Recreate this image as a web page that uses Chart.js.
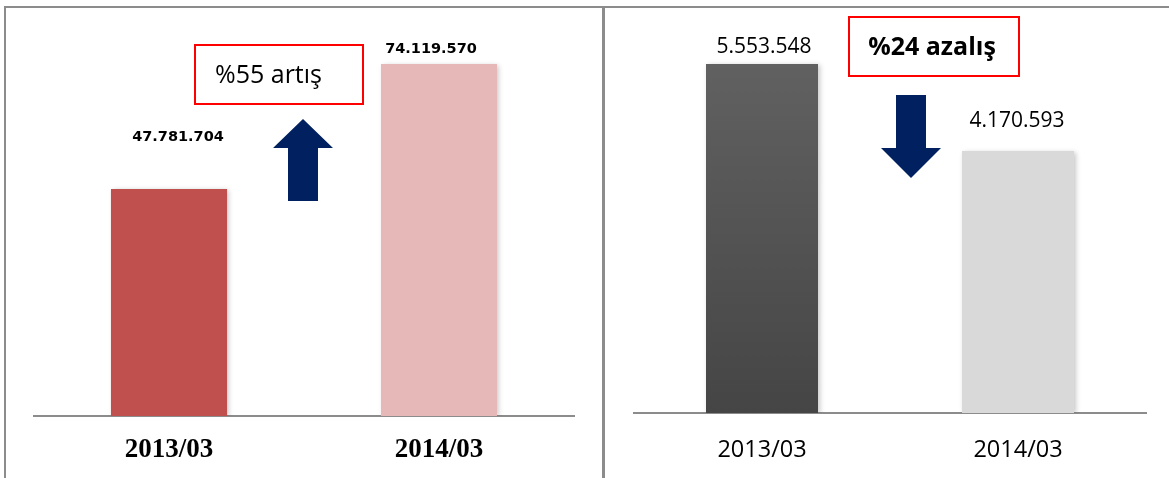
<!DOCTYPE html>
<html>
<head>
<meta charset="utf-8">
<title>2013/03 - 2014/03</title>
<script src="https://cdn.jsdelivr.net/npm/chart.js@4.4.1/dist/chart.umd.min.js"></script>
<style>
    html, body { margin: 0; padding: 0; background: #fff; }
    #page { position: relative; width: 1169px; height: 478px; overflow: hidden; }
    #page canvas { position: absolute; left: 0; top: 0; }
    .line { position: absolute; background: #8c8c8c; }
</style>
</head>
<body>
<div id="page">
    <div class="line" style="left:4px;top:6px;width:1165px;height:2px"></div>
    <div class="line" style="left:4px;top:6px;width:2px;height:472px"></div>
    <div class="line" style="left:602px;top:6px;width:3px;height:472px"></div>
    <canvas id="chartLeft" width="1169" height="478"></canvas>
    <canvas id="chartRight" width="1169" height="478"></canvas>
</div>
<script>
    // DATA
    var periods = ['2013/03', '2014/03'];
    var leftValues = [47781704, 74119570];
    var rightValues = [5553548, 4170593];
    var leftNote = '%55 artış';
    var rightNote = '%24 azalış';

    function formatTr(v) {
        return String(v).replace(/\B(?=(\d{3})+(?!\d))/g, '.');
    }

    // PLUGINS
    var barShadow = {
        id: 'barShadow',
        beforeDatasetsDraw: function (chart) {
            var c = chart.ctx;
            c.save();
            c.shadowColor = 'rgba(0,0,0,0.22)';
            c.shadowBlur = 5;
            c.shadowOffsetX = 2;
            c.shadowOffsetY = 1;
        },
        afterDatasetsDraw: function (chart) {
            chart.ctx.restore();
        }
    };

    var valueLabels = {
        id: 'valueLabels',
        afterDraw: function (chart, args, opts) {
            var c = chart.ctx;
            var meta = chart.getDatasetMeta(0);
            var data = chart.data.datasets[0].data;
            c.save();
            c.font = opts.font;
            c.fillStyle = opts.color;
            c.textAlign = 'center';
            c.textBaseline = 'alphabetic';
            meta.data.forEach(function (bar, i) {
                c.fillText(formatTr(data[i]), bar.x + opts.dx[i], bar.y - opts.gap[i]);
            });
            c.restore();
        }
    };

    var notes = {
        id: 'notes',
        afterDraw: function (chart, args, opts) {
            var c = chart.ctx;
            var b = opts.box;
            var a = opts.arrow;
            c.save();
            // red box
            c.strokeStyle = '#ff0000';
            c.lineWidth = 2;
            c.strokeRect(b.x, b.y, b.w, b.h);
            c.font = opts.font;
            c.fillStyle = '#000';
            c.textAlign = opts.align;
            c.textBaseline = 'alphabetic';
            c.fillText(opts.text, opts.textX, opts.textY);
            // arrow
            c.fillStyle = '#002060';
            c.beginPath();
            c.moveTo(a.cx, a.tip);
            c.lineTo(a.cx + a.head, a.base);
            c.lineTo(a.cx + a.shaft, a.base);
            c.lineTo(a.cx + a.shaft, a.end);
            c.lineTo(a.cx - a.shaft, a.end);
            c.lineTo(a.cx - a.shaft, a.base);
            c.lineTo(a.cx - a.head, a.base);
            c.closePath();
            c.fill();
            c.restore();
        }
    };

    function darkBar(ctx) {
        var area = ctx.chart.chartArea;
        if (ctx.dataIndex !== 0) return '#d9d9d9';
        if (!area) return '#555555';
        var g = ctx.chart.ctx.createLinearGradient(0, area.top, 0, area.bottom);
        g.addColorStop(0, '#636363');
        g.addColorStop(1, '#454545');
        return g;
    }

    // PLOTCHARTS
    new Chart(document.getElementById('chartLeft'), {
        type: 'bar',
        data: {
            labels: periods,
            datasets: [{
                data: leftValues,
                backgroundColor: ['#c0504d', '#e6b9b8'],
                categoryPercentage: 1,
                barPercentage: 0.43
            }]
        },
        options: {
            responsive: false,
            animation: false,
            layout: { padding: { left: 34, right: 595, top: 36, bottom: 0 } },
            plugins: {
                legend: { display: false },
                tooltip: { enabled: false },
                valueLabels: {
                    font: 'bold 14.5px "DejaVu Sans"',
                    color: '#000',
                    dx: [9, -8],
                    gap: [48, 11]
                },
                notes: {
                    box: { x: 195, y: 45, w: 168, h: 59 },
                    text: leftNote,
                    font: '25px "Open Sans"',
                    align: 'left',
                    textX: 215,
                    textY: 83,
                    arrow: { cx: 303, tip: 119, base: 148, end: 201, head: 30, shaft: 15 }
                }
            },
            scales: {
                x: {
                    grid: { display: false, drawTicks: false },
                    border: { color: '#8c8c8c', width: 2 },
                    ticks: {
                        color: '#000',
                        padding: 18,
                        font: { family: '"Liberation Serif"', size: 27, weight: 'bold' }
                    },
                    afterFit: function (s) { s.height = 62; }
                },
                y: { display: false, min: 0, max: 80000000 }
            }
        },
        plugins: [barShadow, valueLabels, notes]
    });

    new Chart(document.getElementById('chartRight'), {
        type: 'bar',
        data: {
            labels: periods,
            datasets: [{
                data: rightValues,
                backgroundColor: darkBar,
                categoryPercentage: 1,
                barPercentage: 0.4375
            }]
        },
        options: {
            responsive: false,
            animation: false,
            layout: { padding: { left: 634, right: 23, top: 36, bottom: 0 } },
            plugins: {
                legend: { display: false },
                tooltip: { enabled: false },
                valueLabels: {
                    font: '21px "Open Sans"',
                    color: '#000',
                    dx: [2, -1],
                    gap: [11, 24]
                },
                notes: {
                    box: { x: 849, y: 17, w: 170, h: 59 },
                    text: rightNote,
                    font: 'bold 25px "Open Sans"',
                    align: 'center',
                    textX: 932,
                    textY: 55,
                    arrow: { cx: 911, tip: 178, base: 148, end: 95, head: 30, shaft: 15 }
                }
            },
            scales: {
                x: {
                    grid: { display: false, drawTicks: false },
                    border: { color: '#8c8c8c', width: 2 },
                    ticks: {
                        color: '#000',
                        padding: 23,
                        font: { family: '"Open Sans"', size: 23.5 }
                    },
                    afterFit: function (s) { s.height = 65; }
                },
                y: { display: false, min: 0, max: 6000000 }
            }
        },
        plugins: [barShadow, valueLabels, notes]
    });
</script>
</body>
</html>
